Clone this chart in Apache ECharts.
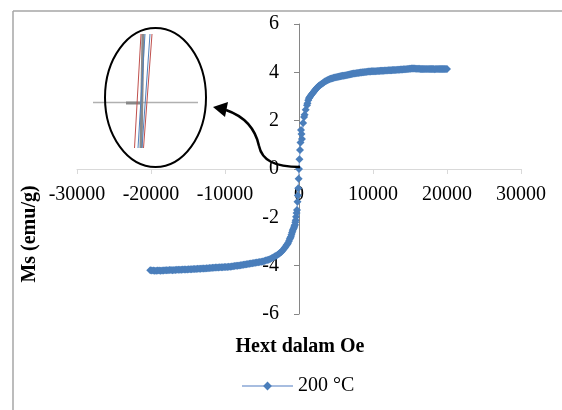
<!DOCTYPE html>
<html>
<head>
<meta charset="utf-8">
<script src="https://cdn.jsdelivr.net/npm/echarts@6/dist/echarts.min.js"></script>
<style>
html, body { margin: 0; padding: 0; background: #fff; }
#chartDiv { width: 562px; height: 410px; }
</style>
</head>
<body>
<div id="chartDiv"></div>
<script>
// 初始化图表
let myChart = echarts.init(document.getElementById('chartDiv'));

// 数据集
let seriesName = '200 °C';
// 下降支 (20000 -> -20000)
let hDown = [20000, 19700, 19400, 19100, 18800, 18500, 18200, 17900, 17600, 17300,
	17000, 16700, 16400, 16100, 15800, 15500, 15200, 14900, 14600, 14300,
	14000, 13700, 13400, 13100, 12800, 12500, 12200, 11900, 11600, 11300,
	11000, 10700, 10400, 10100, 9800, 9500, 9200, 8900, 8600, 8300,
	8000, 7700, 7400, 7100, 6800, 6500, 6200, 5900, 5600, 5300,
	5000, 4700, 4400, 4100, 3800, 3500, 3240, 2950, 2700, 2500,
	2300, 2100, 1900, 1700, 1500, 1350, 1150, 1080, 760, 680,
	400, 270, 135, 0, -50, -100, -200, -270, -400, -450,
	-540, -650, -800, -950, -1100, -1250, -1480, -1700, -1950, -2250,
	-2550, -2900, -3300, -3700, -4100, -4500, -4900, -5300, -5700, -6100,
	-6500, -6900, -7300, -7700, -8100, -8500, -8900, -9300, -9700, -10100,
	-10500, -10900, -11300, -11700, -12100, -12500, -12900, -13300, -13700, -14100,
	-14500, -14900, -15300, -15700, -16100, -16500, -16900, -17300, -17700, -18100,
	-18500, -18900, -19300, -19700, -20100];
let mDown = [4.14, 4.14, 4.14, 4.14, 4.14, 4.14, 4.14, 4.14, 4.14, 4.14,
	4.14, 4.14, 4.14, 4.15, 4.15, 4.16, 4.16, 4.15, 4.14, 4.13,
	4.12, 4.12, 4.11, 4.10, 4.10, 4.09, 4.09, 4.08, 4.08, 4.07,
	4.07, 4.06, 4.05, 4.05, 4.04, 4.03, 4.02, 4.01, 4.00, 3.99,
	3.97, 3.96, 3.95, 3.93, 3.91, 3.89, 3.87, 3.86, 3.84, 3.82,
	3.80, 3.78, 3.75, 3.71, 3.67, 3.62, 3.56, 3.50, 3.44, 3.38,
	3.31, 3.24, 3.16, 3.08, 3.00, 2.93, 2.72, 2.64, 2.25, 2.15,
	1.24, 1.61, 0.79, 0.00, -0.40, -0.80, -1.36, -1.70, -1.98, -2.12,
	-2.31, -2.40, -2.50, -2.64, -2.80, -2.90, -3.06, -3.16, -3.27, -3.38,
	-3.47, -3.55, -3.62, -3.69, -3.75, -3.79, -3.83, -3.85, -3.87, -3.89,
	-3.91, -3.93, -3.95, -3.97, -3.99, -4.00, -4.02, -4.04, -4.05, -4.06,
	-4.07, -4.08, -4.08, -4.09, -4.10, -4.11, -4.12, -4.13, -4.13, -4.14,
	-4.15, -4.15, -4.16, -4.16, -4.17, -4.17, -4.18, -4.18, -4.19, -4.19,
	-4.20, -4.20, -4.21, -4.20, -4.19];
// 上升支 (-20000 -> 20000)
let hUp = [-19900, -19500, -19100, -18700, -18300, -17900, -17500, -17100, -16700, -16300,
	-15900, -15500, -15100, -14700, -14300, -13900, -13500, -13100, -12700, -12300,
	-11900, -11500, -11100, -10700, -10300, -9900, -9500, -9100, -8700, -8300,
	-7900, -7500, -7100, -6700, -6300, -5900, -5500, -5100, -4700, -4300,
	-3900, -3500, -3100, -2700, -2400, -2100, -1820, -1580, -1350, -1180,
	-1020, -870, -720, -600, -500, -330, -150, 60, 200, 340,
	560, 900, 1250, 1420, 1600, 1800, 2000, 2200, 2400, 2600,
	2820, 3100, 3370, 3650, 3950, 4250, 4550, 4850, 5150, 5450,
	5750, 6050, 6350, 6650, 6950, 7250, 7550, 7850, 8150, 8450,
	8750, 9050, 9350, 9650, 9950, 10250, 10550, 10850, 11150, 11450,
	11750, 12050, 12350, 12650, 12950, 13250, 13550, 13850, 14150, 14450,
	14750, 15050, 15350, 15650, 15950, 16250, 16550, 16850, 17150, 17450,
	17750, 18050, 18350, 18650, 18950, 19250, 19550, 19850];
let mUp = [-4.20, -4.21, -4.20, -4.21, -4.20, -4.19, -4.18, -4.19, -4.18, -4.17,
	-4.17, -4.16, -4.16, -4.15, -4.14, -4.14, -4.13, -4.12, -4.12, -4.11,
	-4.10, -4.09, -4.08, -4.07, -4.07, -4.06, -4.04, -4.03, -4.01, -4.00,
	-3.98, -3.96, -3.94, -3.92, -3.90, -3.88, -3.86, -3.84, -3.81, -3.77,
	-3.72, -3.66, -3.59, -3.51, -3.43, -3.33, -3.22, -3.11, -2.98, -2.85,
	-2.72, -2.57, -2.45, -2.35, -2.20, -1.82, -1.10, 0.40, 1.10, 1.45,
	1.90, 2.45, 2.85, 2.96, 3.04, 3.12, 3.20, 3.28, 3.35, 3.41,
	3.47, 3.53, 3.59, 3.64, 3.69, 3.73, 3.76, 3.79, 3.81, 3.83,
	3.85, 3.86, 3.88, 3.90, 3.92, 3.94, 3.95, 3.97, 3.98, 3.99,
	4.00, 4.01, 4.03, 4.03, 4.04, 4.05, 4.06, 4.06, 4.07, 4.07,
	4.08, 4.09, 4.09, 4.10, 4.10, 4.11, 4.11, 4.12, 4.13, 4.13,
	4.14, 4.15, 4.16, 4.16, 4.15, 4.15, 4.14, 4.14, 4.14, 4.14,
	4.14, 4.14, 4.13, 4.14, 4.14, 4.14, 4.14, 4.14];

let points = [];
hDown.forEach(function (h, i) { points.push([h, mDown[i]]); });
hUp.forEach(function (h, i) { points.push([h, mUp[i]]); });

let font = 'Liberation Serif, Times New Roman, serif';

// 图表设置
let option = {
	backgroundColor: '#fff',
	animation: false,
	grid: { left: 77, top: 24, width: 444, height: 290, containLabel: false },
	xAxis: {
		type: 'value',
		min: -30000,
		max: 30000,
		interval: 10000,
		position: 'bottom',
		offset: -145,
		axisLine: { onZero: false, lineStyle: { color: '#d9d9d9', width: 1 } },
		axisTick: { show: true, length: 5, lineStyle: { color: '#d9d9d9' } },
		axisLabel: {
			color: '#000', fontFamily: font, fontSize: 20, margin: 16,
			formatter: function (v) { return String(v); }
		},
		splitLine: { show: false }
	},
	yAxis: {
		type: 'value',
		min: -6,
		max: 6,
		interval: 2,
		position: 'left',
		offset: -222,
		axisLine: { onZero: false, lineStyle: { color: '#868686', width: 1 } },
		axisTick: { show: true, length: 5, lineStyle: { color: '#868686' } },
		axisLabel: {
			color: '#000', fontFamily: font, fontSize: 20, margin: 20,
			formatter: function (v) { return String(v); }
		},
		splitLine: { show: false }
	},
	legend: {
		left: 236,
		top: 371,
		itemWidth: 51,
		itemHeight: 11,
		textStyle: { color: '#000', fontFamily: font, fontSize: 20 },
		data: [seriesName]
	},
	series: [{
		name: seriesName,
		type: 'line',
		data: points,
		symbol: 'diamond',
		symbolSize: 8,
		showAllSymbol: true,
		itemStyle: { color: '#4a7ebb' },
		lineStyle: { color: '#a7bde0', width: 1 },
		z: 3
	}],
	graphic: [
		// 外框
		{ type: 'line', shape: { x1: 13, y1: 11, x2: 562, y2: 11 }, style: { stroke: '#a6a6a6', lineWidth: 1.5 } },
		{ type: 'line', shape: { x1: 13, y1: 11, x2: 13, y2: 410 }, style: { stroke: '#a6a6a6', lineWidth: 1.5 } },
		// 坐标轴标题
		{
			type: 'text', x: 300, y: 347,
			style: { text: 'Hext dalam Oe', fill: '#000', font: 'bold 20px ' + font, align: 'center', verticalAlign: 'middle' }
		},
		{
			type: 'text', x: 30, y: 234, rotation: Math.PI / 2,
			style: { text: 'Ms (emu/g)', fill: '#000', font: 'bold 20px ' + font, align: 'center', verticalAlign: 'middle' }
		},
		// 放大插图
		{ type: 'line', shape: { x1: 93, y1: 102.5, x2: 198, y2: 102.5 }, style: { stroke: '#b0b0b0', lineWidth: 1.5 } },
		{ type: 'line', shape: { x1: 126, y1: 103, x2: 140, y2: 103 }, style: { stroke: '#888', lineWidth: 3 } },
		{ type: 'line', shape: { x1: 143, y1: 34, x2: 141, y2: 148 }, style: { stroke: '#8a8a8a', lineWidth: 3 } },
		{ type: 'line', shape: { x1: 141, y1: 34, x2: 134.5, y2: 148 }, style: { stroke: '#c0504d', lineWidth: 1 } },
		{ type: 'line', shape: { x1: 145, y1: 34, x2: 138, y2: 148 }, style: { stroke: '#4f81bd', lineWidth: 1 } },
		{ type: 'line', shape: { x1: 150, y1: 34, x2: 142, y2: 148 }, style: { stroke: '#4f81bd', lineWidth: 1 } },
		{ type: 'line', shape: { x1: 152, y1: 34, x2: 143.5, y2: 148 }, style: { stroke: '#c0504d', lineWidth: 1 } },
		{ type: 'ellipse', shape: { cx: 155.5, cy: 97.5, rx: 50.5, ry: 69.5 }, style: { fill: 'none', stroke: '#000', lineWidth: 2 } },
		// 箭头
		{
			type: 'bezierCurve',
			shape: { x1: 300, y1: 167, cpx1: 274, cpy1: 167, cpx2: 262, cpy2: 160, x2: 259, y2: 146 },
			style: { stroke: '#000', lineWidth: 2.5, fill: 'none' }, z: 10
		},
		{
			type: 'bezierCurve',
			shape: { x1: 259, y1: 146, cpx1: 256.5, cpy1: 134, cpx2: 249, cpy2: 118, x2: 226, y2: 110 },
			style: { stroke: '#000', lineWidth: 2.5, fill: 'none' }, z: 10
		},
		{
			type: 'polygon',
			shape: { points: [[213, 107], [228, 102], [225, 117]] },
			style: { fill: '#000' }, z: 10
		}
	]
};
myChart.setOption(option);
</script>
</body>
</html>
